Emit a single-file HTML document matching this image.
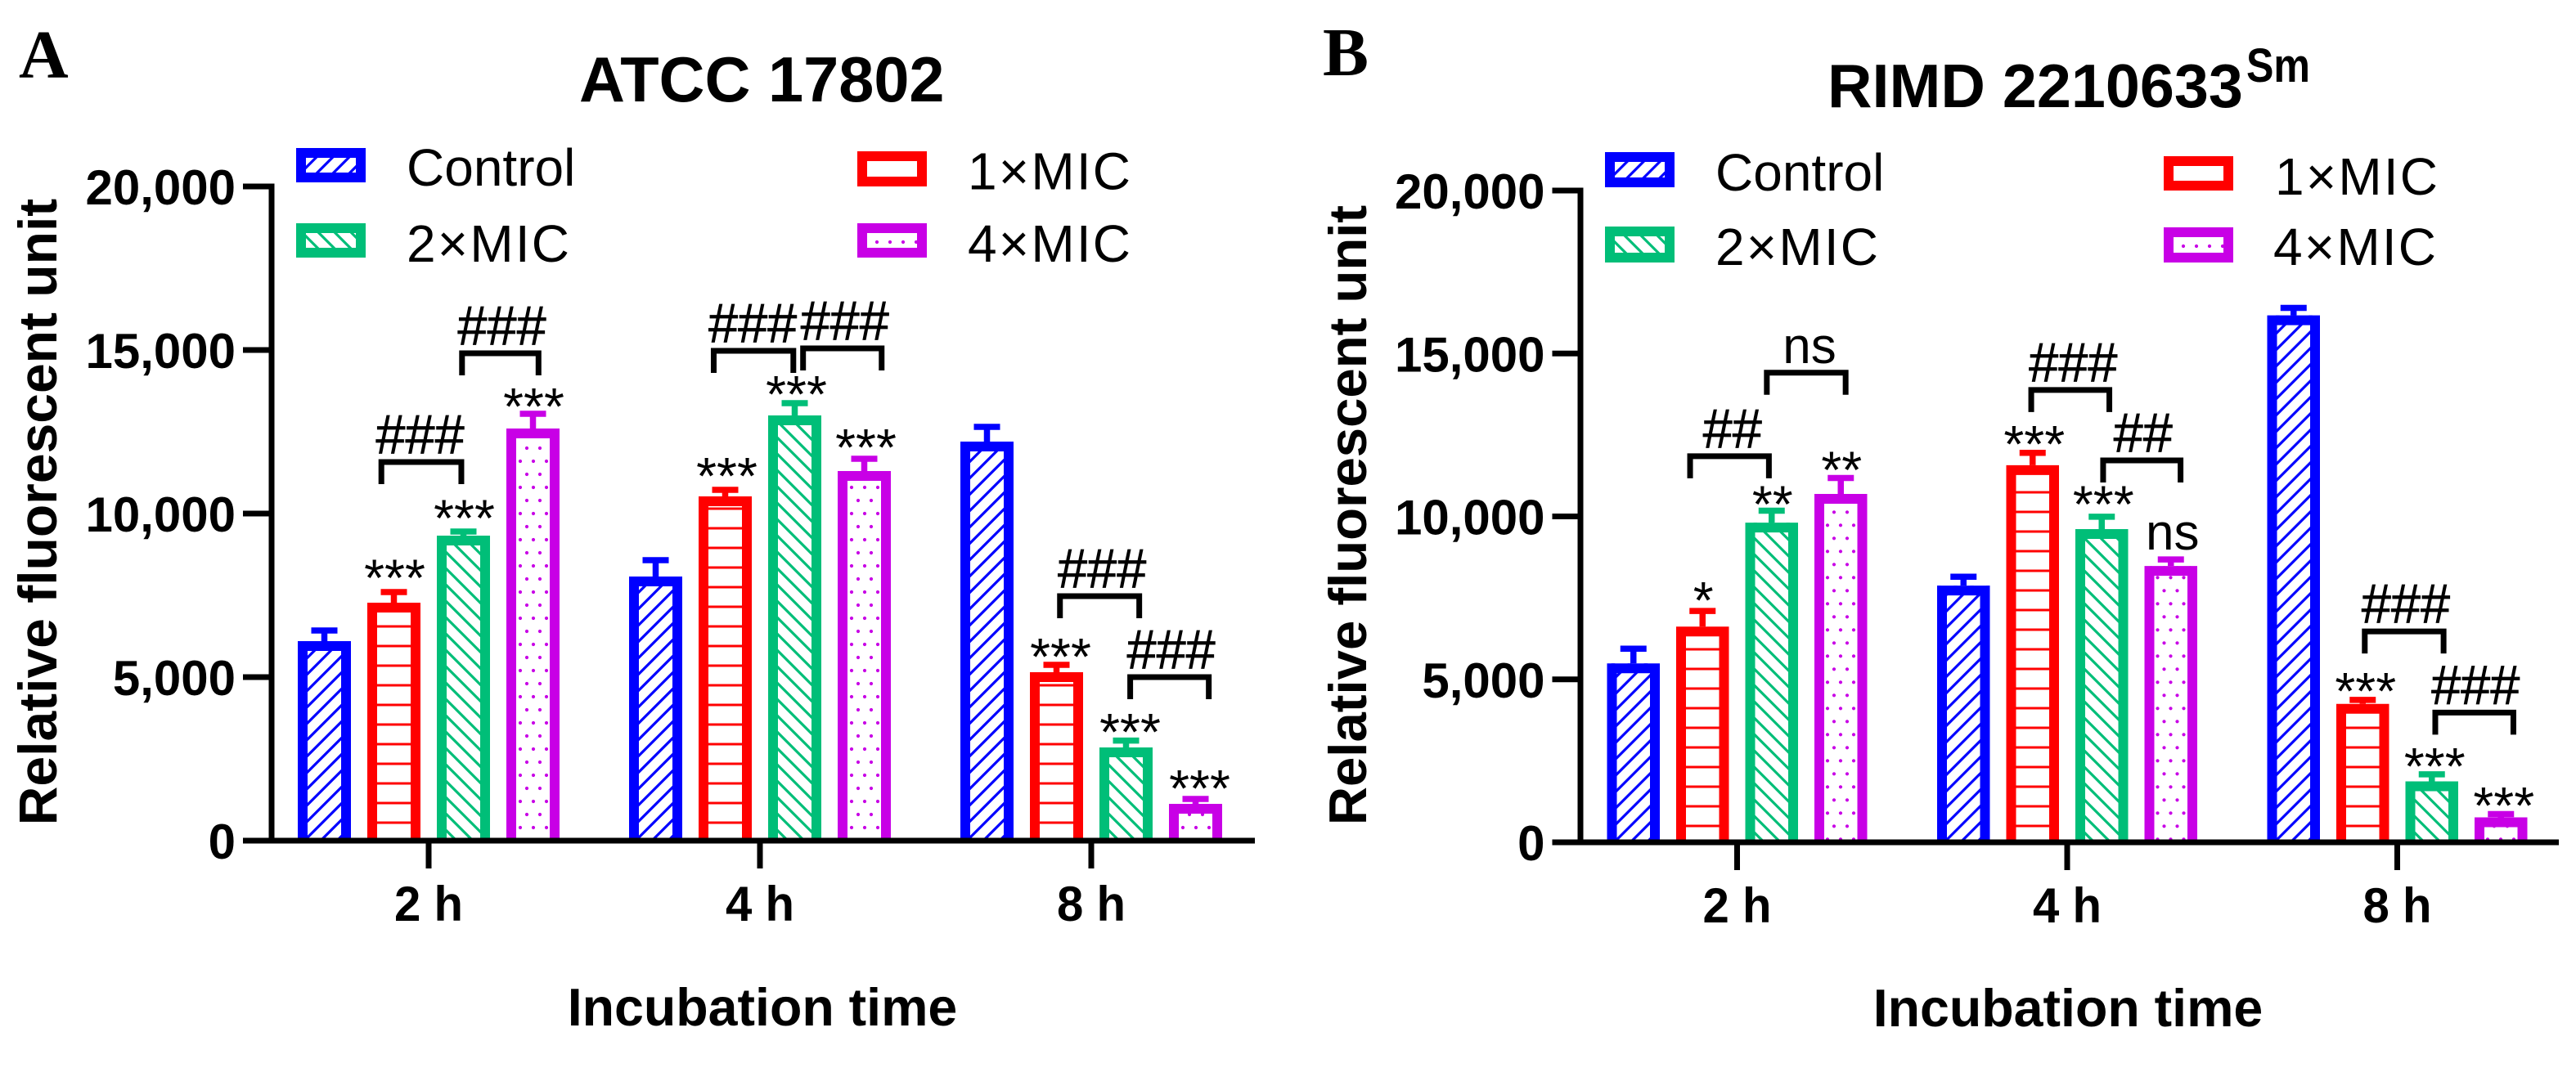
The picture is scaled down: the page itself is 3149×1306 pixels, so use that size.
<!DOCTYPE html>
<html lang="en">
<head>
<meta charset="utf-8">
<title>Relative fluorescent unit by incubation time</title>
<style>
html,body{margin:0;padding:0;background:#fff;width:3149px;height:1306px;overflow:hidden}
svg{display:block}
text{font-family:"Liberation Sans",Arial,sans-serif;fill:#000}
.b{font-weight:bold}
.serif{font-family:"Liberation Serif","Times New Roman",serif;font-weight:bold}
</style>
</head>
<body>
<svg id="figure" xmlns="http://www.w3.org/2000/svg" width="3149" height="1306" viewBox="0 0 3149 1306">
  <defs id="defs">
    <pattern id="h-blue-a" patternUnits="userSpaceOnUse" width="20" height="20" patternTransform="translate(0,16)"><path d="M-5 5L5 -5M-5 25L25 -5M15 25L25 15" stroke="#0000ff" stroke-width="3.2" fill="none"/></pattern>
    <pattern id="h-green-a" patternUnits="userSpaceOnUse" width="20" height="20" patternTransform="translate(0,4)"><path d="M-5 -5L25 25M-5 15L5 25M15 -5L25 5" stroke="#00be78" stroke-width="3.2" fill="none"/></pattern>
    <pattern id="h-red-a" patternUnits="userSpaceOnUse" width="24" height="24"><rect x="0" y="20.5" width="24" height="3" fill="#ff0000"/></pattern>
    <pattern id="h-purple-a" patternUnits="userSpaceOnUse" width="16" height="32" patternTransform="translate(-2,0)"><circle cx="3" cy="20" r="2.1" fill="#c800e6"/><circle cx="11" cy="4" r="2.1" fill="#c800e6"/></pattern>
    <pattern id="h-blue-b" patternUnits="userSpaceOnUse" width="20" height="20" patternTransform="translate(0,18.7)"><path d="M-5 5L5 -5M-5 25L25 -5M15 25L25 15" stroke="#0000ff" stroke-width="3.2" fill="none"/></pattern>
    <pattern id="h-green-b" patternUnits="userSpaceOnUse" width="20" height="20" patternTransform="translate(0,7)"><path d="M-5 -5L25 25M-5 15L5 25M15 -5L25 5" stroke="#00be78" stroke-width="3.2" fill="none"/></pattern>
    <pattern id="h-red-b" patternUnits="userSpaceOnUse" width="24" height="24"><rect x="0" y="0.5" width="24" height="3" fill="#ff0000"/></pattern>
    <pattern id="h-purple-b" patternUnits="userSpaceOnUse" width="16" height="32" patternTransform="translate(-3,0)"><circle cx="3" cy="2.3" r="2.1" fill="#c800e6"/><circle cx="11" cy="18.3" r="2.1" fill="#c800e6"/></pattern>
    <pattern id="swatch-dots" patternUnits="userSpaceOnUse" width="16" height="60"><circle cx="8" cy="23" r="2.1" fill="#c800e6"/></pattern>
  </defs>

  <text class="serif" x="23" y="95" font-size="84">A</text>
  <text class="b" x="708" y="124" font-size="77.5">ATCC 17802</text>
  <text class="b" transform="translate(69,626) rotate(-90)" text-anchor="middle" font-size="66">Relative fluorescent unit</text>
  <text class="b" x="932" y="1254" text-anchor="middle" font-size="64.5">Incubation time</text>

  <text class="serif" x="1617" y="92" font-size="84">B</text>
  <text class="b" x="2234" y="131" font-size="75.5">RIMD 2210633</text>
  <text class="b" x="2746" y="100" font-size="58" textLength="78" lengthAdjust="spacingAndGlyphs">Sm</text>
  <text class="b" transform="translate(1670,630) rotate(-90)" text-anchor="middle" font-size="65.3">Relative fluorescent unit</text>
  <text class="b" x="2528" y="1255" text-anchor="middle" font-size="64.5">Incubation time</text>

  <g id="panel-a"></g>
  <g id="panel-b"></g>
</svg>
<script>
// ---- shared labels ----
const categories = ['2 h', '4 h', '8 h'];
const seriesNames = ['Control', '1×MIC', '2×MIC', '4×MIC'];
const yTickValues = [0, 5000, 10000, 15000, 20000];
const yTickLabels = ['0', '5,000', '10,000', '15,000', '20,000'];

// ---- panel A: ATCC 17802 ----
const aControl = [6100, 8075, 12200];
const aMic1 = [7275, 10525, 5150];
const aMic2 = [9325, 13000, 2850];
const aMic4 = [12600, 11300, 1125];
const aControlUpper = [6425, 8575, 12650];
const aMic1Upper = [7600, 10725, 5375];
const aMic2Upper = [9450, 13375, 3060];
const aMic4Upper = [13050, 11675, 1275];
const aSigLabels = [['', '***', '***', '***'], ['', '***', '***', '***'], ['', '***', '***', '***']];
const aSigLevels = [[0, 7985, 9810, 13225], [0, 11100, 13600, 11975], [0, 5575, 3275, 1550]];
const aBracketLabels = ['###', '###', '###', '###', '###', '###'];
const aBracketGroups = [0, 0, 1, 1, 2, 2];
const aBracketFrom = [0.82, 1.98, 0.835, 2.12, 1.05, 2.06];
const aBracketTo = [1.97, 3.08, 1.98, 3.25, 2.19, 3.19];
const aBracketLevels = [11575, 14900, 14975, 15050, 7475, 5000];

// ---- panel B: RIMD 2210633Sm ----
const bControl = [5490, 7875, 16170];
const bMic1 = [6620, 11570, 4246];
const bMic2 = [9810, 9610, 1870];
const bMic4 = [10690, 8480, 766];
const bControlUpper = [5940, 8150, 16400];
const bMic1Upper = [7100, 11950, 4370];
const bMic2Upper = [10175, 9990, 2085];
const bMic4Upper = [11180, 8680, 867];
const bSigLabels = [['', '*', '**', '**'], ['', '***', '***', 'ns'], ['', '***', '***', '***']];
const bSigLevels = [[0, 7375, 10320, 11380], [0, 12170, 10320, 8980], [0, 4595, 2280, 1073]];
const bBracketLabels = ['##', 'ns', '###', '##', '###', '###'];
const bBracketGroups = [0, 0, 1, 1, 2, 2];
const bBracketFrom = [0.82, 1.93, 0.98, 2.02, 1.03, 2.05];
const bBracketTo = [1.96, 3.07, 2.11, 3.14, 2.17, 3.18];
const bBracketLevels = [11847, 14410, 13880, 11720, 6470, 3980];

const NS = 'http://www.w3.org/2000/svg';
const colors = ['#0000ff', '#ff0000', '#00be78', '#c800e6'];
const seriesKeys = ['control', '1x-mic', '2x-mic', '4x-mic'];
const patternKeys = ['blue', 'red', 'green', 'purple'];

function make(parent, tag, attrs, text) {
  const el = document.createElementNS(NS, tag);
  for (const k in attrs) el.setAttribute(k, attrs[k]);
  if (text !== undefined) el.textContent = text;
  parent.appendChild(el);
  return el;
}

function drawPanel(cfg) {
  const root = document.getElementById(cfg.rootId);
  const yScale = v => cfg.y0 - v * cfg.k;
  const groupCenter = g => cfg.x0 + g * cfg.groupStep;
  const barCenter = (g, s) => groupCenter(g) + (s - 1.5) * cfg.pitch;
  const HALF = 3.5;

  // bars
  cfg.values.forEach((vals, s) => {
    vals.forEach((v, g) => {
      const cx = barCenter(g, s);
      const left = cx - cfg.barW / 2;
      const top = yScale(v);
      const bar = make(root, 'g', { transform: 'translate(' + left + ',0)' });
      
      
      make(bar, 'rect', { x: 0, y: top, width: cfg.barW, height: cfg.y0 - top, fill: '#fff' });
      make(bar, 'rect', { x: 0, y: top, width: cfg.barW, height: cfg.y0 - top, fill: 'url(#h-' + patternKeys[s] + '-' + cfg.suffix + ')' });
      make(bar, 'path', {
        d: 'M6 ' + cfg.y0 + 'V' + (top + 6) + 'H' + (cfg.barW - 6) + 'V' + cfg.y0,
        fill: 'none', stroke: colors[s], 'stroke-width': 12
      });

      const capY = yScale(cfg.uppers[s][g]);
      const err = make(root, 'path', {
        d: 'M' + cx + ' ' + top + 'V' + capY + 'M' + (cx - 16) + ' ' + capY + 'H' + (cx + 16),
        fill: 'none', stroke: colors[s], 'stroke-width': 7.5
      });
      
      

      const sig = cfg.sigLabels[g][s];
      if (sig) {
        const isNs = sig === 'ns';
        const baseline = isNs ? yScale(cfg.sigLevels[g][s]) : yScale(cfg.sigLevels[g][s]) + 20;
        const label = make(root, 'text', {
          x: cx + cfg.starShift[g], y: baseline, 'text-anchor': 'middle', 'font-size': isNs ? 62 : 64
        }, sig);
        
        
      }
    });
  });

  // axes
  const yAxis = make(root, 'line', {
    x1: cfg.axisX, x2: cfg.axisX, y1: yScale(20000) - HALF, y2: cfg.y0 + HALF, stroke: '#000', 'stroke-width': 7
  });
  
  
  const xAxis = make(root, 'line', {
    x1: cfg.tickLeft, x2: cfg.axisEnd, y1: cfg.y0, y2: cfg.y0, stroke: '#000', 'stroke-width': 7
  });
  
  

  yTickValues.forEach((v, i) => {
    const y = yScale(v);
    const tick = make(root, 'line', { x1: cfg.tickLeft, x2: cfg.axisX, y1: y, y2: y, stroke: '#000', 'stroke-width': 7 });
    
    
    const label = make(root, 'text', {
      class: 'b', x: cfg.tickLeft - 9, y: y + 22, 'text-anchor': 'end', 'font-size': 60
    }, yTickLabels[i]);
    
    
  });

  categories.forEach((c, g) => {
    const x = groupCenter(g);
    const tick = make(root, 'line', { x1: x, x2: x, y1: cfg.y0, y2: cfg.y0 + 34, stroke: '#000', 'stroke-width': 7 });
    
    
    const label = make(root, 'text', {
      class: 'b', x: x, y: cfg.y0 + 98, 'text-anchor': 'middle', 'font-size': 60,
      textLength: 84, lengthAdjust: 'spacingAndGlyphs'
    }, c);
    
    
  });

  // comparison brackets
  cfg.bracketLabels.forEach((txt, i) => {
    const g = cfg.bracketGroups[i];
    const xa = barCenter(g, 0) + cfg.bracketFrom[i] * cfg.pitch;
    const xb = barCenter(g, 0) + cfg.bracketTo[i] * cfg.pitch;
    const y = yScale(cfg.bracketLevels[i]);
    const br = make(root, 'path', {
      d: 'M' + xa + ' ' + (y + 27) + 'V' + y + 'H' + xb + 'V' + (y + 27),
      fill: 'none', stroke: '#000', 'stroke-width': 7
    });
    
    
    const isNs = txt === 'ns';
    const attrs = {
      x: (xa + xb) / 2 + cfg.bracketLabelShift[i], y: y - (isNs ? 12 : 10.5), 'text-anchor': 'middle', 'font-size': isNs ? 62 : 68
    };
    if (!isNs) {
      attrs.textLength = txt.length * 36.1;
      attrs.lengthAdjust = 'spacingAndGlyphs';
      attrs.stroke = '#000';
      attrs['stroke-width'] = 0.7;
    }
    const label = make(root, 'text', attrs, txt);
    
    
  });

  // legend
  seriesNames.forEach((name, s) => {
    const sw = cfg.legendSwatches[s];
    const entry = make(root, 'g', {});
    
    
    const box = make(entry, 'g', { transform: 'translate(' + sw[0] + ',' + sw[1] + ')' });
    const w = 85, h = sw[2];
    const fills = {
      0: 'url(#h-blue-' + cfg.suffix + ')',
      1: '#fff',
      2: 'url(#h-green-' + cfg.suffix + ')',
      3: 'url(#swatch-dots)'
    };
    make(box, 'rect', { x: 6, y: 6, width: w - 12, height: h - 12, fill: '#fff' });
    make(box, 'rect', { x: 6, y: 6, width: w - 12, height: h - 12, fill: fills[s], stroke: colors[s], 'stroke-width': 12 });
    const textAttrs = { x: cfg.legendText[s][0], y: cfg.legendText[s][1], 'font-size': 64 };
    if (s > 0) textAttrs.textLength = 199;
    make(entry, 'text', textAttrs, name);
  });
}

drawPanel({
  rootId: 'panel-a', suffix: 'a', y0: 1028, k: 0.04,
  x0: 524, groupStep: 405, pitch: 85, barW: 65,
  axisX: 332, tickLeft: 297, axisEnd: 1534,
  values: [aControl, aMic1, aMic2, aMic4],
  uppers: [aControlUpper, aMic1Upper, aMic2Upper, aMic4Upper],
  sigLabels: aSigLabels, sigLevels: aSigLevels, starShift: [1, 2, 5],
  bracketLabels: aBracketLabels, bracketGroups: aBracketGroups,
  bracketFrom: aBracketFrom, bracketTo: aBracketTo, bracketLevels: aBracketLevels,
  bracketLabelShift: [-1.5, 2, -1, 3, 3, 2],
  legendSwatches: [[362, 181, 42], [1048, 185, 43], [362, 273, 42], [1048, 273, 42]],
  legendText: [[497, 227], [1183, 231.5], [497, 320], [1183, 320]]
});

drawPanel({
  rootId: 'panel-b', suffix: 'b', y0: 1030, k: 0.03985,
  x0: 2123.5, groupStep: 403.5, pitch: 84.5, barW: 64.5,
  axisX: 1932, tickLeft: 1897.5, axisEnd: 3128,
  values: [bControl, bMic1, bMic2, bMic4],
  uppers: [bControlUpper, bMic1Upper, bMic2Upper, bMic4Upper],
  sigLabels: bSigLabels, sigLevels: bSigLevels, starShift: [1, 2, 3.5],
  bracketLabels: bBracketLabels, bracketGroups: bBracketGroups,
  bracketFrom: bBracketFrom, bracketTo: bBracketTo, bracketLevels: bBracketLevels,
  bracketLabelShift: [3.5, 4, 3.5, 1.5, 2, 1.5],
  legendSwatches: [[1962, 186, 43], [2645, 191, 42], [1962, 277, 44], [2645, 278, 43]],
  legendText: [[2097, 233], [2781, 238], [2097, 324], [2779, 324]]
});
</script>
</body>
</html>
